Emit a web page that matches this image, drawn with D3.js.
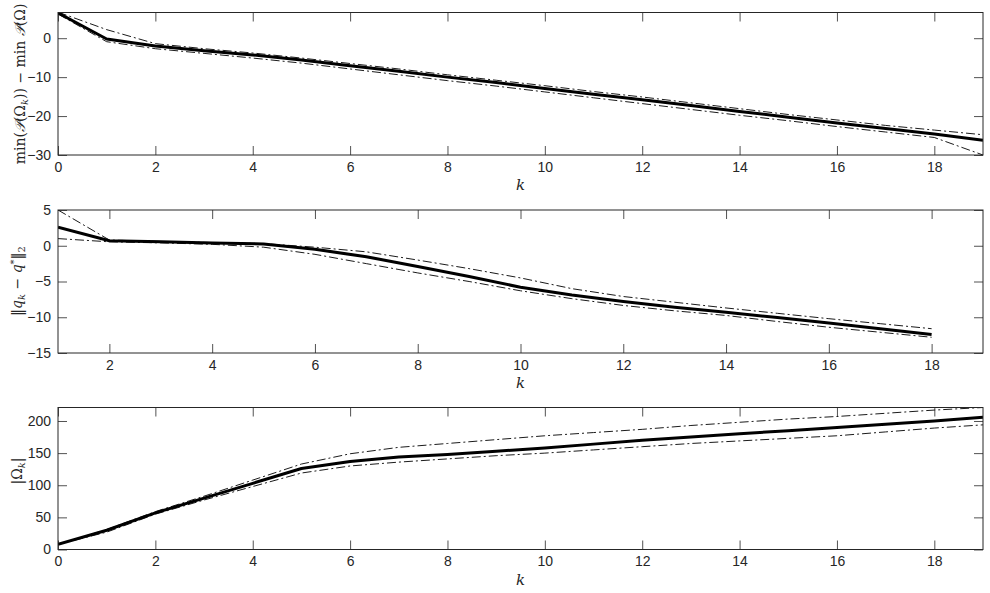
<!DOCTYPE html>
<html>
<head>
<meta charset="utf-8">
<script src="https://cdn.jsdelivr.net/npm/d3@7"></script>
<style>
  body { margin: 0; background: #fff; }
  .tick text { font-family: "Liberation Sans", Arial, sans-serif; font-size: 14px; fill: #262626; }
  .lbl { font-family: "DejaVu Serif", "Liberation Serif", serif; fill: #262626; }
</style>
</head>
<body>
<div id="chart"></div>
<script>
// k values
var kFull = [0, 1, 2, 3, 4, 5, 6, 7, 8, 9, 10, 11, 12, 13, 14, 15, 16, 17, 18, 19];
var kErr  = [1, 2, 3, 4, 5, 6, 7, 8, 9, 10, 11, 12, 13, 14, 15, 16, 17, 18];

// panel 1: min(P(Omega_k)) - min P(Omega)
var objMean  = [6.5, -0.2, -2.0, -3.2, -4.3, -5.6, -7.1, -8.5, -10.0, -11.4, -12.9, -14.4, -15.8, -17.3, -18.8, -20.3, -21.8, -23.2, -24.6, -26.2];
var objUpper = [6.7, 2.2, -1.4, -2.7, -3.8, -5.1, -6.5, -7.9, -9.4, -10.8, -12.2, -13.7, -15.1, -16.6, -18.1, -19.6, -21.0, -22.4, -23.6, -24.8];
var objLower = [6.2, -0.9, -2.7, -3.9, -5.1, -6.4, -7.9, -9.4, -10.9, -12.3, -13.8, -15.3, -16.8, -18.3, -19.8, -21.2, -22.7, -24.1, -25.5, -30.0];

// panel 2: ||q_k - q*||_2
var errMean  = [2.6, 0.7, 0.55, 0.4, 0.25, -0.5, -1.55, -2.9, -4.3, -5.8, -6.9, -7.8, -8.6, -9.3, -10.05, -10.8, -11.6, -12.4];
var errUpper = [5.0, 0.8, 0.6, 0.45, 0.3, -0.2, -0.85, -2.0, -3.2, -4.5, -6.0, -7.1, -7.9, -8.7, -9.45, -10.2, -10.9, -11.6];
var errLower = [1.0, 0.55, 0.4, 0.2, -0.2, -1.2, -2.5, -3.8, -5.0, -6.3, -7.4, -8.35, -9.1, -9.75, -10.6, -11.4, -12.1, -12.8];

// panel 3: |Omega_k|
var sizeMean  = [8, 30, 57, 80, 103, 126, 137, 144, 148, 153, 158, 164, 170, 175, 180, 185, 190, 195, 200, 206];
var sizeUpper = [8, 31, 59, 83, 108, 133, 149, 159, 165, 171, 177, 182, 187, 193, 198, 203, 207, 212, 217, 221];
var sizeLower = [8, 27, 55, 77, 98, 119, 130, 136, 141, 146, 150, 155, 160, 165, 169, 173, 177, 183, 189, 194];

var xTicksFull = [0, 2, 4, 6, 8, 10, 12, 14, 16, 18];
var xTicksErr  = [2, 4, 6, 8, 10, 12, 14, 16, 18];

var W = 990, H = 593;
var left = 58, right = 983;

var svg = d3.select("#chart").append("svg")
    .attr("width", W)
    .attr("height", H);

var panels = [
  { top: 12.5, bottom: 155, xDom: [0, 19], yDom: [-30, 6.6], yTicks: [-30, -20, -10, 0], xTicks: xTicksFull,
    k: kFull, mean: objMean, upper: objUpper, lower: objLower, kY: 190, id: "obj" },
  { top: 210, bottom: 353, xDom: [1, 19], yDom: [-15, 5], yTicks: [-15, -10, -5, 0, 5], xTicks: xTicksErr,
    k: kErr, mean: errMean, upper: errUpper, lower: errLower, kY: 388, id: "err" },
  { top: 407.5, bottom: 549.5, xDom: [0, 19], yDom: [0, 221], yTicks: [0, 50, 100, 150, 200], xTicks: xTicksFull,
    k: kFull, mean: sizeMean, upper: sizeUpper, lower: sizeLower, kY: 585, id: "size" }
];

panels.forEach(function(p) {
  var x = d3.scaleLinear().domain(p.xDom).range([left, right]);
  var y = d3.scaleLinear().domain(p.yDom).range([p.bottom, p.top]);
  var g = svg.append("g");
  var tl = 9;

  // axes with inward ticks (box on)
  var bottomAx = g.append("g").attr("transform", "translate(0," + p.bottom + ")")
    .call(d3.axisBottom(x).tickValues(p.xTicks).tickSizeInner(-tl).tickSizeOuter(0).tickPadding(5));
  g.append("g").attr("transform", "translate(0," + p.top + ")")
    .call(d3.axisTop(x).tickValues(p.xTicks).tickSizeInner(-tl).tickSizeOuter(0).tickFormat(""));
  g.append("g").attr("transform", "translate(" + left + ",0)")
    .call(d3.axisLeft(y).tickValues(p.yTicks).tickSizeInner(-tl).tickSizeOuter(0).tickPadding(7));
  g.append("g").attr("transform", "translate(" + right + ",0)")
    .call(d3.axisRight(y).tickValues(p.yTicks).tickSizeInner(-tl).tickSizeOuter(0).tickFormat(""));
  g.selectAll(".domain").remove();
  g.selectAll(".tick line").attr("stroke", "#262626").attr("stroke-width", 0.8);
  bottomAx.selectAll(".tick text").attr("dy", "0.85em");

  // clip
  svg.append("clipPath").attr("id", "clip-" + p.id)
    .append("rect").attr("x", left).attr("y", p.top).attr("width", right - left).attr("height", p.bottom - p.top);

  var line = d3.line()
    .x(function(d) { return x(d[0]); })
    .y(function(d) { return y(d[1]); });

  var lines = g.append("g").attr("clip-path", "url(#clip-" + p.id + ")");
  [p.upper, p.lower].forEach(function(s) {
    lines.append("path")
      .datum(p.k.map(function(k, i) { return [k, s[i]]; }))
      .attr("d", line)
      .attr("fill", "none")
      .attr("stroke", "#000")
      .attr("stroke-width", 0.9)
      .attr("stroke-dasharray", "9,3,2,3");
  });
  lines.append("path")
    .datum(p.k.map(function(k, i) { return [k, p.mean[i]]; }))
    .attr("d", line)
    .attr("fill", "none")
    .attr("stroke", "#000")
    .attr("stroke-width", 3)
    .attr("stroke-linejoin", "round");

  // box
  g.append("rect")
    .attr("x", left).attr("y", p.top)
    .attr("width", right - left).attr("height", p.bottom - p.top)
    .attr("fill", "none").attr("stroke", "#262626").attr("stroke-width", 1);

  // x label
  g.append("text").attr("class", "lbl")
    .attr("x", (left + right) / 2).attr("y", p.kY)
    .attr("text-anchor", "middle").attr("font-size", 15).attr("font-style", "italic")
    .text("k");
});

// y labels (rotated)
function yLabel(cx, cy, build) {
  var t = svg.append("text").attr("class", "lbl")
    .attr("transform", "translate(" + cx + "," + cy + ") rotate(-90)")
    .attr("text-anchor", "middle")
    .attr("font-size", 14);
  build(t);
}

yLabel(25, 84, function(t) {
  t.append("tspan").text("min(");
  t.append("tspan").attr("font-style", "italic").text("𝒫");
  t.append("tspan").text("(Ω");
  t.append("tspan").attr("font-style", "italic").attr("font-size", 10).attr("dy", 3).text("k");
  t.append("tspan").attr("dy", -3).text(")) − min ");
  t.append("tspan").attr("font-style", "italic").text("𝒫");
  t.append("tspan").text("(Ω)");
});

yLabel(22, 281, function(t) {
  t.append("tspan").text("‖");
  t.append("tspan").attr("font-style", "italic").text("q");
  t.append("tspan").attr("font-style", "italic").attr("font-size", 10).attr("dy", 3).text("k");
  t.append("tspan").attr("dy", -3).text(" − ");
  t.append("tspan").attr("font-style", "italic").text("q");
  t.append("tspan").attr("font-size", 10).attr("dy", -5).text("*");
  t.append("tspan").attr("dy", 5).text("‖");
  t.append("tspan").attr("font-size", 10).attr("dy", 3).text("2");
});

yLabel(22, 471, function(t) {
  t.append("tspan").text("|Ω");
  t.append("tspan").attr("font-style", "italic").attr("font-size", 10).attr("dy", 3).text("k");
  t.append("tspan").attr("dy", -3).text("|");
});
</script>
</body>
</html>
